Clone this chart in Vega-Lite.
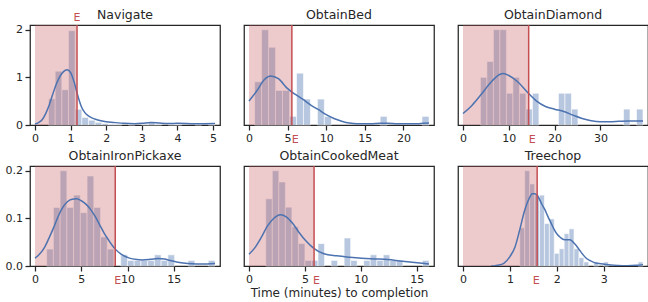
{
  "$schema": "https://vega.github.io/schema/vega-lite/v6.json",
  "padding": {"left": 4, "top": 8, "right": 0, "bottom": 0},
  "background": "white",
  "config": {
    "view": {"stroke": "#262626", "strokeWidth": 1.25},
    "axis": {"domain": false, "grid": false, "tickColor": "#262626", "tickSize": 5, "tickWidth": 1.25, "labelFont": "DejaVu Sans", "labelFontSize": 11, "labelColor": "#262626", "labelPadding": 2.5, "labelFlush": false, "labelOverlap": false, "titleFont": "DejaVu Sans", "titleFontSize": 12, "titleFontWeight": "normal", "titleColor": "#262626"},
    "title": {"font": "DejaVu Sans", "fontSize": 12.5, "fontWeight": "normal", "color": "#262626", "frame": "group", "offset": 2.5}
  },
  "datasets": {
    "hist": [
      {"task": "Navigate", "x0": 0.380, "x1": 0.567, "density": 0.55},
      {"task": "Navigate", "x0": 0.567, "x1": 0.754, "density": 1.13},
      {"task": "Navigate", "x0": 0.754, "x1": 0.941, "density": 0.74},
      {"task": "Navigate", "x0": 0.941, "x1": 1.128, "density": 1.98},
      {"task": "Navigate", "x0": 1.128, "x1": 1.315, "density": 0.33},
      {"task": "Navigate", "x0": 1.315, "x1": 1.502, "density": 0.16},
      {"task": "Navigate", "x0": 1.502, "x1": 1.689, "density": 0.10},
      {"task": "Navigate", "x0": 1.689, "x1": 1.876, "density": 0.055},
      {"task": "Navigate", "x0": 1.876, "x1": 2.063, "density": 0.03},
      {"task": "Navigate", "x0": 2.063, "x1": 2.250, "density": 0.015},
      {"task": "Navigate", "x0": 2.250, "x1": 2.437, "density": 0.015},
      {"task": "Navigate", "x0": 2.624, "x1": 2.811, "density": 0.015},
      {"task": "Navigate", "x0": 2.998, "x1": 3.185, "density": 0.015},
      {"task": "Navigate", "x0": 3.185, "x1": 3.372, "density": 0.05},
      {"task": "Navigate", "x0": 3.372, "x1": 3.559, "density": 0.015},
      {"task": "Navigate", "x0": 3.746, "x1": 3.933, "density": 0.015},
      {"task": "Navigate", "x0": 3.933, "x1": 4.120, "density": 0.015},
      {"task": "Navigate", "x0": 4.494, "x1": 4.681, "density": 0.015},
      {"task": "Navigate", "x0": 4.868, "x1": 5.055, "density": 0.015},
      {"task": "ObtainBed", "x0": 0.730, "x1": 1.633, "density": 0.113},
      {"task": "ObtainBed", "x0": 1.633, "x1": 2.536, "density": 0.249},
      {"task": "ObtainBed", "x0": 2.536, "x1": 3.439, "density": 0.2034},
      {"task": "ObtainBed", "x0": 3.439, "x1": 4.342, "density": 0.0904},
      {"task": "ObtainBed", "x0": 4.342, "x1": 5.245, "density": 0.0904},
      {"task": "ObtainBed", "x0": 5.245, "x1": 6.148, "density": 0.0226},
      {"task": "ObtainBed", "x0": 6.148, "x1": 7.051, "density": 0.1356},
      {"task": "ObtainBed", "x0": 7.051, "x1": 7.954, "density": 0.0678},
      {"task": "ObtainBed", "x0": 8.857, "x1": 9.760, "density": 0.0678},
      {"task": "ObtainBed", "x0": 9.760, "x1": 10.663, "density": 0.0226},
      {"task": "ObtainBed", "x0": 16.984, "x1": 17.887, "density": 0.0226},
      {"task": "ObtainBed", "x0": 22.402, "x1": 23.305, "density": 0.0226},
      {"task": "ObtainDiamond", "x0": 3.80, "x1": 5.22, "density": 0.0587},
      {"task": "ObtainDiamond", "x0": 5.22, "x1": 6.64, "density": 0.0782},
      {"task": "ObtainDiamond", "x0": 6.64, "x1": 8.06, "density": 0.1174},
      {"task": "ObtainDiamond", "x0": 8.06, "x1": 9.48, "density": 0.1174},
      {"task": "ObtainDiamond", "x0": 9.48, "x1": 10.90, "density": 0.0391},
      {"task": "ObtainDiamond", "x0": 10.90, "x1": 12.32, "density": 0.0587},
      {"task": "ObtainDiamond", "x0": 12.32, "x1": 13.74, "density": 0.0391},
      {"task": "ObtainDiamond", "x0": 13.74, "x1": 15.16, "density": 0.0196},
      {"task": "ObtainDiamond", "x0": 15.16, "x1": 16.58, "density": 0.0391},
      {"task": "ObtainDiamond", "x0": 20.84, "x1": 22.26, "density": 0.0391},
      {"task": "ObtainDiamond", "x0": 22.26, "x1": 23.68, "density": 0.0391},
      {"task": "ObtainDiamond", "x0": 23.68, "x1": 25.10, "density": 0.0196},
      {"task": "ObtainDiamond", "x0": 35.04, "x1": 36.46, "density": 0.0196},
      {"task": "ObtainDiamond", "x0": 37.88, "x1": 39.30, "density": 0.0196},
      {"task": "ObtainIronPickaxe", "x0": 1.260, "x1": 1.988, "density": 0.0356},
      {"task": "ObtainIronPickaxe", "x0": 1.988, "x1": 2.715, "density": 0.123},
      {"task": "ObtainIronPickaxe", "x0": 2.715, "x1": 3.443, "density": 0.200},
      {"task": "ObtainIronPickaxe", "x0": 3.443, "x1": 4.170, "density": 0.123},
      {"task": "ObtainIronPickaxe", "x0": 4.170, "x1": 4.898, "density": 0.149},
      {"task": "ObtainIronPickaxe", "x0": 4.898, "x1": 5.626, "density": 0.112},
      {"task": "ObtainIronPickaxe", "x0": 5.626, "x1": 6.353, "density": 0.189},
      {"task": "ObtainIronPickaxe", "x0": 6.353, "x1": 7.081, "density": 0.123},
      {"task": "ObtainIronPickaxe", "x0": 7.081, "x1": 7.808, "density": 0.061},
      {"task": "ObtainIronPickaxe", "x0": 7.808, "x1": 8.536, "density": 0.0356},
      {"task": "ObtainIronPickaxe", "x0": 9.264, "x1": 9.991, "density": 0.0235},
      {"task": "ObtainIronPickaxe", "x0": 9.991, "x1": 10.719, "density": 0.0117},
      {"task": "ObtainIronPickaxe", "x0": 10.719, "x1": 11.446, "density": 0.0117},
      {"task": "ObtainIronPickaxe", "x0": 11.446, "x1": 12.174, "density": 0.0117},
      {"task": "ObtainIronPickaxe", "x0": 12.174, "x1": 12.902, "density": 0.0117},
      {"task": "ObtainIronPickaxe", "x0": 12.902, "x1": 13.629, "density": 0.0235},
      {"task": "ObtainIronPickaxe", "x0": 13.629, "x1": 14.357, "density": 0.0117},
      {"task": "ObtainIronPickaxe", "x0": 14.357, "x1": 15.084, "density": 0.0235},
      {"task": "ObtainIronPickaxe", "x0": 16.540, "x1": 17.267, "density": 0.0117},
      {"task": "ObtainIronPickaxe", "x0": 18.722, "x1": 19.450, "density": 0.0117},
      {"task": "ObtainCookedMeat", "x0": 1.500, "x1": 2.084, "density": 0.2348},
      {"task": "ObtainCookedMeat", "x0": 2.084, "x1": 2.668, "density": 0.3327},
      {"task": "ObtainCookedMeat", "x0": 2.668, "x1": 3.252, "density": 0.2935},
      {"task": "ObtainCookedMeat", "x0": 3.252, "x1": 3.836, "density": 0.2055},
      {"task": "ObtainCookedMeat", "x0": 3.836, "x1": 4.420, "density": 0.137},
      {"task": "ObtainCookedMeat", "x0": 4.420, "x1": 5.004, "density": 0.0783},
      {"task": "ObtainCookedMeat", "x0": 5.004, "x1": 5.588, "density": 0.0196},
      {"task": "ObtainCookedMeat", "x0": 5.588, "x1": 6.172, "density": 0.0196},
      {"task": "ObtainCookedMeat", "x0": 6.172, "x1": 6.756, "density": 0.0783},
      {"task": "ObtainCookedMeat", "x0": 7.340, "x1": 7.924, "density": 0.0196},
      {"task": "ObtainCookedMeat", "x0": 8.508, "x1": 9.092, "density": 0.0978},
      {"task": "ObtainCookedMeat", "x0": 9.092, "x1": 9.676, "density": 0.0196},
      {"task": "ObtainCookedMeat", "x0": 10.260, "x1": 10.844, "density": 0.0196},
      {"task": "ObtainCookedMeat", "x0": 10.844, "x1": 11.428, "density": 0.0391},
      {"task": "ObtainCookedMeat", "x0": 11.428, "x1": 12.012, "density": 0.0196},
      {"task": "ObtainCookedMeat", "x0": 12.012, "x1": 12.596, "density": 0.0391},
      {"task": "ObtainCookedMeat", "x0": 12.596, "x1": 13.180, "density": 0.0196},
      {"task": "ObtainCookedMeat", "x0": 13.180, "x1": 13.764, "density": 0.0196},
      {"task": "ObtainCookedMeat", "x0": 15.516, "x1": 16.100, "density": 0.0196},
      {"task": "Treechop", "x0": 1.210, "x1": 1.315, "density": 0.619},
      {"task": "Treechop", "x0": 1.315, "x1": 1.420, "density": 1.543},
      {"task": "Treechop", "x0": 1.420, "x1": 1.525, "density": 1.329},
      {"task": "Treechop", "x0": 1.525, "x1": 1.630, "density": 1.149},
      {"task": "Treechop", "x0": 1.630, "x1": 1.735, "density": 1.149},
      {"task": "Treechop", "x0": 1.735, "x1": 1.840, "density": 0.689},
      {"task": "Treechop", "x0": 1.840, "x1": 1.945, "density": 0.763},
      {"task": "Treechop", "x0": 1.945, "x1": 2.050, "density": 0.205},
      {"task": "Treechop", "x0": 2.050, "x1": 2.155, "density": 0.279},
      {"task": "Treechop", "x0": 2.155, "x1": 2.260, "density": 0.525},
      {"task": "Treechop", "x0": 2.260, "x1": 2.365, "density": 0.602},
      {"task": "Treechop", "x0": 2.365, "x1": 2.470, "density": 0.279},
      {"task": "Treechop", "x0": 2.470, "x1": 2.575, "density": 0.136},
      {"task": "Treechop", "x0": 2.575, "x1": 2.680, "density": 0.066},
      {"task": "Treechop", "x0": 2.785, "x1": 2.890, "density": 0.066},
      {"task": "Treechop", "x0": 2.995, "x1": 3.100, "density": 0.066},
      {"task": "Treechop", "x0": 3.730, "x1": 3.835, "density": 0.066}
    ],
    "kde": [
      {"task": "Navigate", "x": 0, "y": 0.02}, {"task": "Navigate", "x": 0.1, "y": 0.05}, {"task": "Navigate", "x": 0.2, "y": 0.11}, {"task": "Navigate", "x": 0.3, "y": 0.24}, {"task": "Navigate", "x": 0.4, "y": 0.42}, {"task": "Navigate", "x": 0.5, "y": 0.65}, {"task": "Navigate", "x": 0.6, "y": 0.86}, {"task": "Navigate", "x": 0.7, "y": 1.02}, {"task": "Navigate", "x": 0.8, "y": 1.12}, {"task": "Navigate", "x": 0.9, "y": 1.16}, {"task": "Navigate", "x": 1.0, "y": 1.1}, {"task": "Navigate", "x": 1.1, "y": 0.9}, {"task": "Navigate", "x": 1.2, "y": 0.62}, {"task": "Navigate", "x": 1.3, "y": 0.39}, {"task": "Navigate", "x": 1.4, "y": 0.26}, {"task": "Navigate", "x": 1.5, "y": 0.19}, {"task": "Navigate", "x": 1.6, "y": 0.15}, {"task": "Navigate", "x": 1.7, "y": 0.12}, {"task": "Navigate", "x": 1.85, "y": 0.09}, {"task": "Navigate", "x": 2.0, "y": 0.07}, {"task": "Navigate", "x": 2.2, "y": 0.055}, {"task": "Navigate", "x": 2.5, "y": 0.035}, {"task": "Navigate", "x": 2.8, "y": 0.028}, {"task": "Navigate", "x": 3.0, "y": 0.035}, {"task": "Navigate", "x": 3.25, "y": 0.055}, {"task": "Navigate", "x": 3.5, "y": 0.04}, {"task": "Navigate", "x": 3.75, "y": 0.03}, {"task": "Navigate", "x": 4.0, "y": 0.035}, {"task": "Navigate", "x": 4.5, "y": 0.025}, {"task": "Navigate", "x": 5.055, "y": 0.03},
      {"task": "ObtainBed", "x": 0, "y": 0.063}, {"task": "ObtainBed", "x": 1, "y": 0.089}, {"task": "ObtainBed", "x": 2, "y": 0.119}, {"task": "ObtainBed", "x": 2.8, "y": 0.128}, {"task": "ObtainBed", "x": 3.8, "y": 0.121}, {"task": "ObtainBed", "x": 5, "y": 0.095}, {"task": "ObtainBed", "x": 6, "y": 0.080}, {"task": "ObtainBed", "x": 7, "y": 0.067}, {"task": "ObtainBed", "x": 8, "y": 0.052}, {"task": "ObtainBed", "x": 9, "y": 0.040}, {"task": "ObtainBed", "x": 10, "y": 0.027}, {"task": "ObtainBed", "x": 11, "y": 0.017}, {"task": "ObtainBed", "x": 12, "y": 0.010}, {"task": "ObtainBed", "x": 13, "y": 0.005}, {"task": "ObtainBed", "x": 14, "y": 0.003}, {"task": "ObtainBed", "x": 15, "y": 0.003}, {"task": "ObtainBed", "x": 16, "y": 0.0035}, {"task": "ObtainBed", "x": 17, "y": 0.0045}, {"task": "ObtainBed", "x": 18, "y": 0.0045}, {"task": "ObtainBed", "x": 19, "y": 0.0035}, {"task": "ObtainBed", "x": 20, "y": 0.003}, {"task": "ObtainBed", "x": 21, "y": 0.003}, {"task": "ObtainBed", "x": 22, "y": 0.0035}, {"task": "ObtainBed", "x": 23.305, "y": 0.005},
      {"task": "ObtainDiamond", "x": 0, "y": 0.0142}, {"task": "ObtainDiamond", "x": 2, "y": 0.0244}, {"task": "ObtainDiamond", "x": 4, "y": 0.0378}, {"task": "ObtainDiamond", "x": 6, "y": 0.052}, {"task": "ObtainDiamond", "x": 8, "y": 0.0622}, {"task": "ObtainDiamond", "x": 8.8, "y": 0.0634}, {"task": "ObtainDiamond", "x": 10, "y": 0.061}, {"task": "ObtainDiamond", "x": 12, "y": 0.0529}, {"task": "ObtainDiamond", "x": 14, "y": 0.0407}, {"task": "ObtainDiamond", "x": 16, "y": 0.0297}, {"task": "ObtainDiamond", "x": 18, "y": 0.0228}, {"task": "ObtainDiamond", "x": 20, "y": 0.0195}, {"task": "ObtainDiamond", "x": 22, "y": 0.0167}, {"task": "ObtainDiamond", "x": 24, "y": 0.0122}, {"task": "ObtainDiamond", "x": 26, "y": 0.0081}, {"task": "ObtainDiamond", "x": 28, "y": 0.0053}, {"task": "ObtainDiamond", "x": 30, "y": 0.0041}, {"task": "ObtainDiamond", "x": 32, "y": 0.0041}, {"task": "ObtainDiamond", "x": 34, "y": 0.0045}, {"task": "ObtainDiamond", "x": 36, "y": 0.0049}, {"task": "ObtainDiamond", "x": 38, "y": 0.0049}, {"task": "ObtainDiamond", "x": 39.3, "y": 0.0049},
      {"task": "ObtainIronPickaxe", "x": 0, "y": 0.0164}, {"task": "ObtainIronPickaxe", "x": 0.5, "y": 0.025}, {"task": "ObtainIronPickaxe", "x": 1.0, "y": 0.038}, {"task": "ObtainIronPickaxe", "x": 1.5, "y": 0.058}, {"task": "ObtainIronPickaxe", "x": 2.0, "y": 0.08}, {"task": "ObtainIronPickaxe", "x": 2.5, "y": 0.104}, {"task": "ObtainIronPickaxe", "x": 3.0, "y": 0.123}, {"task": "ObtainIronPickaxe", "x": 3.5, "y": 0.135}, {"task": "ObtainIronPickaxe", "x": 4.0, "y": 0.14}, {"task": "ObtainIronPickaxe", "x": 4.5, "y": 0.141}, {"task": "ObtainIronPickaxe", "x": 5.0, "y": 0.137}, {"task": "ObtainIronPickaxe", "x": 5.5, "y": 0.13}, {"task": "ObtainIronPickaxe", "x": 6.0, "y": 0.119}, {"task": "ObtainIronPickaxe", "x": 6.5, "y": 0.104}, {"task": "ObtainIronPickaxe", "x": 7.0, "y": 0.086}, {"task": "ObtainIronPickaxe", "x": 7.5, "y": 0.068}, {"task": "ObtainIronPickaxe", "x": 8.0, "y": 0.053}, {"task": "ObtainIronPickaxe", "x": 8.6, "y": 0.037}, {"task": "ObtainIronPickaxe", "x": 9.3, "y": 0.025}, {"task": "ObtainIronPickaxe", "x": 10.2, "y": 0.0165}, {"task": "ObtainIronPickaxe", "x": 11.0, "y": 0.0135}, {"task": "ObtainIronPickaxe", "x": 11.6, "y": 0.0128}, {"task": "ObtainIronPickaxe", "x": 12.5, "y": 0.014}, {"task": "ObtainIronPickaxe", "x": 13.3, "y": 0.0155}, {"task": "ObtainIronPickaxe", "x": 14.0, "y": 0.0145}, {"task": "ObtainIronPickaxe", "x": 14.6, "y": 0.0115}, {"task": "ObtainIronPickaxe", "x": 15.3, "y": 0.0085}, {"task": "ObtainIronPickaxe", "x": 16.0, "y": 0.0065}, {"task": "ObtainIronPickaxe", "x": 17.0, "y": 0.0047}, {"task": "ObtainIronPickaxe", "x": 17.8, "y": 0.0042}, {"task": "ObtainIronPickaxe", "x": 18.6, "y": 0.0042}, {"task": "ObtainIronPickaxe", "x": 19.45, "y": 0.005},
      {"task": "ObtainCookedMeat", "x": 0, "y": 0.0413}, {"task": "ObtainCookedMeat", "x": 0.5, "y": 0.0626}, {"task": "ObtainCookedMeat", "x": 1.07, "y": 0.098}, {"task": "ObtainCookedMeat", "x": 1.64, "y": 0.139}, {"task": "ObtainCookedMeat", "x": 2.2, "y": 0.166}, {"task": "ObtainCookedMeat", "x": 2.8, "y": 0.179}, {"task": "ObtainCookedMeat", "x": 3.33, "y": 0.172}, {"task": "ObtainCookedMeat", "x": 3.9, "y": 0.149}, {"task": "ObtainCookedMeat", "x": 4.46, "y": 0.118}, {"task": "ObtainCookedMeat", "x": 5.08, "y": 0.088}, {"task": "ObtainCookedMeat", "x": 5.8, "y": 0.0615}, {"task": "ObtainCookedMeat", "x": 6.7, "y": 0.0425}, {"task": "ObtainCookedMeat", "x": 7.85, "y": 0.0354}, {"task": "ObtainCookedMeat", "x": 9.0, "y": 0.0307}, {"task": "ObtainCookedMeat", "x": 10.1, "y": 0.0272}, {"task": "ObtainCookedMeat", "x": 11.2, "y": 0.0248}, {"task": "ObtainCookedMeat", "x": 12.4, "y": 0.0224}, {"task": "ObtainCookedMeat", "x": 13.5, "y": 0.0177}, {"task": "ObtainCookedMeat", "x": 14.6, "y": 0.013}, {"task": "ObtainCookedMeat", "x": 15.5, "y": 0.0094}, {"task": "ObtainCookedMeat", "x": 16.1, "y": 0.0071},
      {"task": "Treechop", "x": 0.6, "y": 0}, {"task": "Treechop", "x": 0.67, "y": 0.002}, {"task": "Treechop", "x": 0.74, "y": 0.011}, {"task": "Treechop", "x": 0.87, "y": 0.044}, {"task": "Treechop", "x": 1.0, "y": 0.153}, {"task": "Treechop", "x": 1.1, "y": 0.29}, {"task": "Treechop", "x": 1.21, "y": 0.59}, {"task": "Treechop", "x": 1.31, "y": 0.89}, {"task": "Treechop", "x": 1.41, "y": 1.094}, {"task": "Treechop", "x": 1.475, "y": 1.17}, {"task": "Treechop", "x": 1.53, "y": 1.17}, {"task": "Treechop", "x": 1.61, "y": 1.11}, {"task": "Treechop", "x": 1.68, "y": 1.0}, {"task": "Treechop", "x": 1.74, "y": 0.92}, {"task": "Treechop", "x": 1.81, "y": 0.8}, {"task": "Treechop", "x": 1.88, "y": 0.69}, {"task": "Treechop", "x": 1.95, "y": 0.58}, {"task": "Treechop", "x": 2.01, "y": 0.51}, {"task": "Treechop", "x": 2.08, "y": 0.46}, {"task": "Treechop", "x": 2.14, "y": 0.43}, {"task": "Treechop", "x": 2.21, "y": 0.425}, {"task": "Treechop", "x": 2.28, "y": 0.425}, {"task": "Treechop", "x": 2.38, "y": 0.36}, {"task": "Treechop", "x": 2.48, "y": 0.26}, {"task": "Treechop", "x": 2.55, "y": 0.19}, {"task": "Treechop", "x": 2.62, "y": 0.13}, {"task": "Treechop", "x": 2.7, "y": 0.09}, {"task": "Treechop", "x": 2.8, "y": 0.055}, {"task": "Treechop", "x": 2.9, "y": 0.04}, {"task": "Treechop", "x": 3.0, "y": 0.03}, {"task": "Treechop", "x": 3.1, "y": 0.022}, {"task": "Treechop", "x": 3.3, "y": 0.01}, {"task": "Treechop", "x": 3.5, "y": 0.006}, {"task": "Treechop", "x": 3.7, "y": 0.012}, {"task": "Treechop", "x": 3.835, "y": 0.022}
    ],
    "ev": [
      {"task": "Navigate", "E": 1.18},
      {"task": "ObtainBed", "E": 5.55},
      {"task": "ObtainDiamond", "E": 14.34},
      {"task": "ObtainIronPickaxe", "E": 8.67},
      {"task": "ObtainCookedMeat", "E": 5.82},
      {"task": "Treechop", "E": 1.58}
    ]
  },
  "columns": 3,
  "bounds": "flush",
  "spacing": {"row": 41, "column": 24},
  "concat": [
    {
      "width": 190, "height": 100,
      "title": {"text": "Navigate", "offset": -9.5},
      "resolve": {"axis": {"x": "independent", "y": "independent"}},
      "layer": [
        {"data": {"name": "hist"}, "transform": [{"filter": "datum.task === 'Navigate'"}],
         "mark": {"type": "bar", "orient": "vertical", "fill": "#4C72B0", "fillOpacity": 0.4, "stroke": "white", "strokeWidth": 1, "strokeOpacity": 0.6},
         "encoding": {
           "x": {"field": "x0", "type": "quantitative", "scale": {"domain": [0, 5.055], "nice": false, "zero": false}, "axis": {"values": [0, 1, 2, 3, 4, 5], "title": null}},
           "x2": {"field": "x1"},
           "y": {"field": "density", "type": "quantitative", "scale": {"domain": [0, 2.1], "nice": false}, "axis": {"values": [0, 1, 2], "format": ".0f", "labelOverlap": false, "title": null}}}},
        {"data": {"name": "ev"}, "transform": [{"filter": "datum.task === 'Navigate'"}],
         "mark": {"type": "rect", "fill": "#C44E52", "opacity": 0.3},
         "encoding": {"x": {"field": "E", "type": "quantitative", "axis": null}, "x2": {"datum": 0}}},
        {"data": {"name": "kde"}, "transform": [{"filter": "datum.task === 'Navigate'"}],
         "mark": {"type": "line", "color": "#4C72B0", "strokeWidth": 1.5, "interpolate": "monotone", "clip": true},
         "encoding": {"x": {"field": "x", "type": "quantitative", "axis": null}, "y": {"field": "y", "type": "quantitative", "axis": null}}},
        {"data": {"name": "ev"}, "transform": [{"filter": "datum.task === 'Navigate'"}],
         "mark": {"type": "rule", "color": "#C44E52", "strokeWidth": 1.5},
         "encoding": {"x": {"field": "E", "type": "quantitative", "axis": null}}},
        {"data": {"name": "ev"}, "transform": [{"filter": "datum.task === 'Navigate'"}],
         "mark": {"type": "text", "text": "E", "color": "#C44E52", "font": "DejaVu Sans", "fontSize": 11, "align": "center", "baseline": "alphabetic", "dy": -4},
         "encoding": {"x": {"field": "E", "type": "quantitative", "axis": null}, "y": {"datum": 2.1, "type": "quantitative", "axis": null}}}
      ]
    },
    {
      "width": 190, "height": 100,
      "title": {"text": "ObtainBed"},
      "resolve": {"axis": {"x": "independent", "y": "independent"}},
      "layer": [
        {"data": {"name": "hist"}, "transform": [{"filter": "datum.task === 'ObtainBed'"}],
         "mark": {"type": "bar", "orient": "vertical", "fill": "#4C72B0", "fillOpacity": 0.4, "stroke": "white", "strokeWidth": 1, "strokeOpacity": 0.6},
         "encoding": {
           "x": {"field": "x0", "type": "quantitative", "scale": {"domain": [0, 23.305], "nice": false, "zero": false}, "axis": {"values": [0, 5, 10, 15, 20], "title": null}},
           "x2": {"field": "x1"},
           "y": {"field": "density", "type": "quantitative", "scale": {"domain": [0, 0.2615], "nice": false}, "axis": null}}},
        {"data": {"name": "ev"}, "transform": [{"filter": "datum.task === 'ObtainBed'"}],
         "mark": {"type": "rect", "fill": "#C44E52", "opacity": 0.3},
         "encoding": {"x": {"field": "E", "type": "quantitative", "axis": null}, "x2": {"datum": 0}}},
        {"data": {"name": "kde"}, "transform": [{"filter": "datum.task === 'ObtainBed'"}],
         "mark": {"type": "line", "color": "#4C72B0", "strokeWidth": 1.5, "interpolate": "monotone", "clip": true},
         "encoding": {"x": {"field": "x", "type": "quantitative", "axis": null}, "y": {"field": "y", "type": "quantitative", "axis": null}}},
        {"data": {"name": "ev"}, "transform": [{"filter": "datum.task === 'ObtainBed'"}],
         "mark": {"type": "rule", "color": "#C44E52", "strokeWidth": 1.5},
         "encoding": {"x": {"field": "E", "type": "quantitative", "axis": null}}},
        {"data": {"name": "ev"}, "transform": [{"filter": "datum.task === 'ObtainBed'"}],
         "mark": {"type": "text", "text": "E", "color": "#C44E52", "font": "DejaVu Sans", "fontSize": 11, "align": "left", "baseline": "alphabetic", "dy": 17.5},
         "encoding": {"x": {"field": "E", "type": "quantitative", "axis": null}, "y": {"datum": 0, "type": "quantitative", "axis": null}}}
      ]
    },
    {
      "width": 190, "height": 100,
      "title": {"text": "ObtainDiamond"},
      "resolve": {"axis": {"x": "independent", "y": "independent"}},
      "layer": [
        {"data": {"name": "hist"}, "transform": [{"filter": "datum.task === 'ObtainDiamond'"}],
         "mark": {"type": "bar", "orient": "vertical", "fill": "#4C72B0", "fillOpacity": 0.4, "stroke": "white", "strokeWidth": 1, "strokeOpacity": 0.6},
         "encoding": {
           "x": {"field": "x0", "type": "quantitative", "scale": {"domain": [0, 39.3], "nice": false, "zero": false}, "axis": {"values": [0, 10, 20, 30], "title": null}},
           "x2": {"field": "x1"},
           "y": {"field": "density", "type": "quantitative", "scale": {"domain": [0, 0.1232], "nice": false}, "axis": null}}},
        {"data": {"name": "ev"}, "transform": [{"filter": "datum.task === 'ObtainDiamond'"}],
         "mark": {"type": "rect", "fill": "#C44E52", "opacity": 0.3},
         "encoding": {"x": {"field": "E", "type": "quantitative", "axis": null}, "x2": {"datum": 0}}},
        {"data": {"name": "kde"}, "transform": [{"filter": "datum.task === 'ObtainDiamond'"}],
         "mark": {"type": "line", "color": "#4C72B0", "strokeWidth": 1.5, "interpolate": "monotone", "clip": true},
         "encoding": {"x": {"field": "x", "type": "quantitative", "axis": null}, "y": {"field": "y", "type": "quantitative", "axis": null}}},
        {"data": {"name": "ev"}, "transform": [{"filter": "datum.task === 'ObtainDiamond'"}],
         "mark": {"type": "rule", "color": "#C44E52", "strokeWidth": 1.5},
         "encoding": {"x": {"field": "E", "type": "quantitative", "axis": null}}},
        {"data": {"name": "ev"}, "transform": [{"filter": "datum.task === 'ObtainDiamond'"}],
         "mark": {"type": "text", "text": "E", "color": "#C44E52", "font": "DejaVu Sans", "fontSize": 11, "align": "left", "baseline": "alphabetic", "dy": 17.5},
         "encoding": {"x": {"field": "E", "type": "quantitative", "axis": null}, "y": {"datum": 0, "type": "quantitative", "axis": null}}}
      ]
    },
    {
      "width": 190, "height": 100,
      "title": {"text": "ObtainIronPickaxe"},
      "resolve": {"axis": {"x": "independent", "y": "independent"}},
      "layer": [
        {"data": {"name": "hist"}, "transform": [{"filter": "datum.task === 'ObtainIronPickaxe'"}],
         "mark": {"type": "bar", "orient": "vertical", "fill": "#4C72B0", "fillOpacity": 0.4, "stroke": "white", "strokeWidth": 1, "strokeOpacity": 0.6},
         "encoding": {
           "x": {"field": "x0", "type": "quantitative", "scale": {"domain": [0, 19.45], "nice": false, "zero": false}, "axis": {"values": [0, 5, 10, 15], "title": null}},
           "x2": {"field": "x1"},
           "y": {"field": "density", "type": "quantitative", "scale": {"domain": [0, 0.21], "nice": false}, "axis": {"values": [0, 0.1, 0.2], "format": ".1f", "title": null}}}},
        {"data": {"name": "ev"}, "transform": [{"filter": "datum.task === 'ObtainIronPickaxe'"}],
         "mark": {"type": "rect", "fill": "#C44E52", "opacity": 0.3},
         "encoding": {"x": {"field": "E", "type": "quantitative", "axis": null}, "x2": {"datum": 0}}},
        {"data": {"name": "kde"}, "transform": [{"filter": "datum.task === 'ObtainIronPickaxe'"}],
         "mark": {"type": "line", "color": "#4C72B0", "strokeWidth": 1.5, "interpolate": "monotone", "clip": true},
         "encoding": {"x": {"field": "x", "type": "quantitative", "axis": null}, "y": {"field": "y", "type": "quantitative", "axis": null}}},
        {"data": {"name": "ev"}, "transform": [{"filter": "datum.task === 'ObtainIronPickaxe'"}],
         "mark": {"type": "rule", "color": "#C44E52", "strokeWidth": 1.5},
         "encoding": {"x": {"field": "E", "type": "quantitative", "axis": null}}},
        {"data": {"name": "ev"}, "transform": [{"filter": "datum.task === 'ObtainIronPickaxe'"}],
         "mark": {"type": "text", "text": "E", "color": "#C44E52", "font": "DejaVu Sans", "fontSize": 11, "align": "left", "baseline": "alphabetic", "dx": -1, "dy": 17.5},
         "encoding": {"x": {"field": "E", "type": "quantitative", "axis": null}, "y": {"datum": 0, "type": "quantitative", "axis": null}}}
      ]
    },
    {
      "width": 190, "height": 100,
      "title": {"text": "ObtainCookedMeat"},
      "resolve": {"axis": {"x": "independent", "y": "independent"}},
      "layer": [
        {"data": {"name": "hist"}, "transform": [{"filter": "datum.task === 'ObtainCookedMeat'"}],
         "mark": {"type": "bar", "orient": "vertical", "fill": "#4C72B0", "fillOpacity": 0.4, "stroke": "white", "strokeWidth": 1, "strokeOpacity": 0.6},
         "encoding": {
           "x": {"field": "x0", "type": "quantitative", "scale": {"domain": [0, 16.1], "nice": false, "zero": false}, "axis": {"values": [0, 5, 10, 15], "title": "Time (minutes) to completion", "titlePadding": 3}},
           "x2": {"field": "x1"},
           "y": {"field": "density", "type": "quantitative", "scale": {"domain": [0, 0.3493], "nice": false}, "axis": null}}},
        {"data": {"name": "ev"}, "transform": [{"filter": "datum.task === 'ObtainCookedMeat'"}],
         "mark": {"type": "rect", "fill": "#C44E52", "opacity": 0.3},
         "encoding": {"x": {"field": "E", "type": "quantitative", "axis": null}, "x2": {"datum": 0}}},
        {"data": {"name": "kde"}, "transform": [{"filter": "datum.task === 'ObtainCookedMeat'"}],
         "mark": {"type": "line", "color": "#4C72B0", "strokeWidth": 1.5, "interpolate": "monotone", "clip": true},
         "encoding": {"x": {"field": "x", "type": "quantitative", "axis": null}, "y": {"field": "y", "type": "quantitative", "axis": null}}},
        {"data": {"name": "ev"}, "transform": [{"filter": "datum.task === 'ObtainCookedMeat'"}],
         "mark": {"type": "rule", "color": "#C44E52", "strokeWidth": 1.5},
         "encoding": {"x": {"field": "E", "type": "quantitative", "axis": null}}},
        {"data": {"name": "ev"}, "transform": [{"filter": "datum.task === 'ObtainCookedMeat'"}],
         "mark": {"type": "text", "text": "E", "color": "#C44E52", "font": "DejaVu Sans", "fontSize": 11, "align": "left", "baseline": "alphabetic", "dx": -1, "dy": 17.5},
         "encoding": {"x": {"field": "E", "type": "quantitative", "axis": null}, "y": {"datum": 0, "type": "quantitative", "axis": null}}}
      ]
    },
    {
      "width": 190, "height": 100,
      "title": {"text": "Treechop"},
      "resolve": {"axis": {"x": "independent", "y": "independent"}},
      "layer": [
        {"data": {"name": "hist"}, "transform": [{"filter": "datum.task === 'Treechop'"}],
         "mark": {"type": "bar", "orient": "vertical", "fill": "#4C72B0", "fillOpacity": 0.4, "stroke": "white", "strokeWidth": 1, "strokeOpacity": 0.6},
         "encoding": {
           "x": {"field": "x0", "type": "quantitative", "scale": {"domain": [0, 3.835], "nice": false, "zero": false}, "axis": {"values": [0, 1, 2, 3], "title": null}},
           "x2": {"field": "x1"},
           "y": {"field": "density", "type": "quantitative", "scale": {"domain": [0, 1.62], "nice": false}, "axis": null}}},
        {"data": {"name": "ev"}, "transform": [{"filter": "datum.task === 'Treechop'"}],
         "mark": {"type": "rect", "fill": "#C44E52", "opacity": 0.3},
         "encoding": {"x": {"field": "E", "type": "quantitative", "axis": null}, "x2": {"datum": 0}}},
        {"data": {"name": "kde"}, "transform": [{"filter": "datum.task === 'Treechop'"}],
         "mark": {"type": "line", "color": "#4C72B0", "strokeWidth": 1.5, "interpolate": "monotone", "clip": true},
         "encoding": {"x": {"field": "x", "type": "quantitative", "axis": null}, "y": {"field": "y", "type": "quantitative", "axis": null}}},
        {"data": {"name": "ev"}, "transform": [{"filter": "datum.task === 'Treechop'"}],
         "mark": {"type": "rule", "color": "#C44E52", "strokeWidth": 1.5},
         "encoding": {"x": {"field": "E", "type": "quantitative", "axis": null}}},
        {"data": {"name": "ev"}, "transform": [{"filter": "datum.task === 'Treechop'"}],
         "mark": {"type": "text", "text": "E", "color": "#C44E52", "font": "DejaVu Sans", "fontSize": 11, "align": "center", "baseline": "alphabetic", "dx": -1, "dy": 17.5},
         "encoding": {"x": {"field": "E", "type": "quantitative", "axis": null}, "y": {"datum": 0, "type": "quantitative", "axis": null}}}
      ]
    }
  ]
}
